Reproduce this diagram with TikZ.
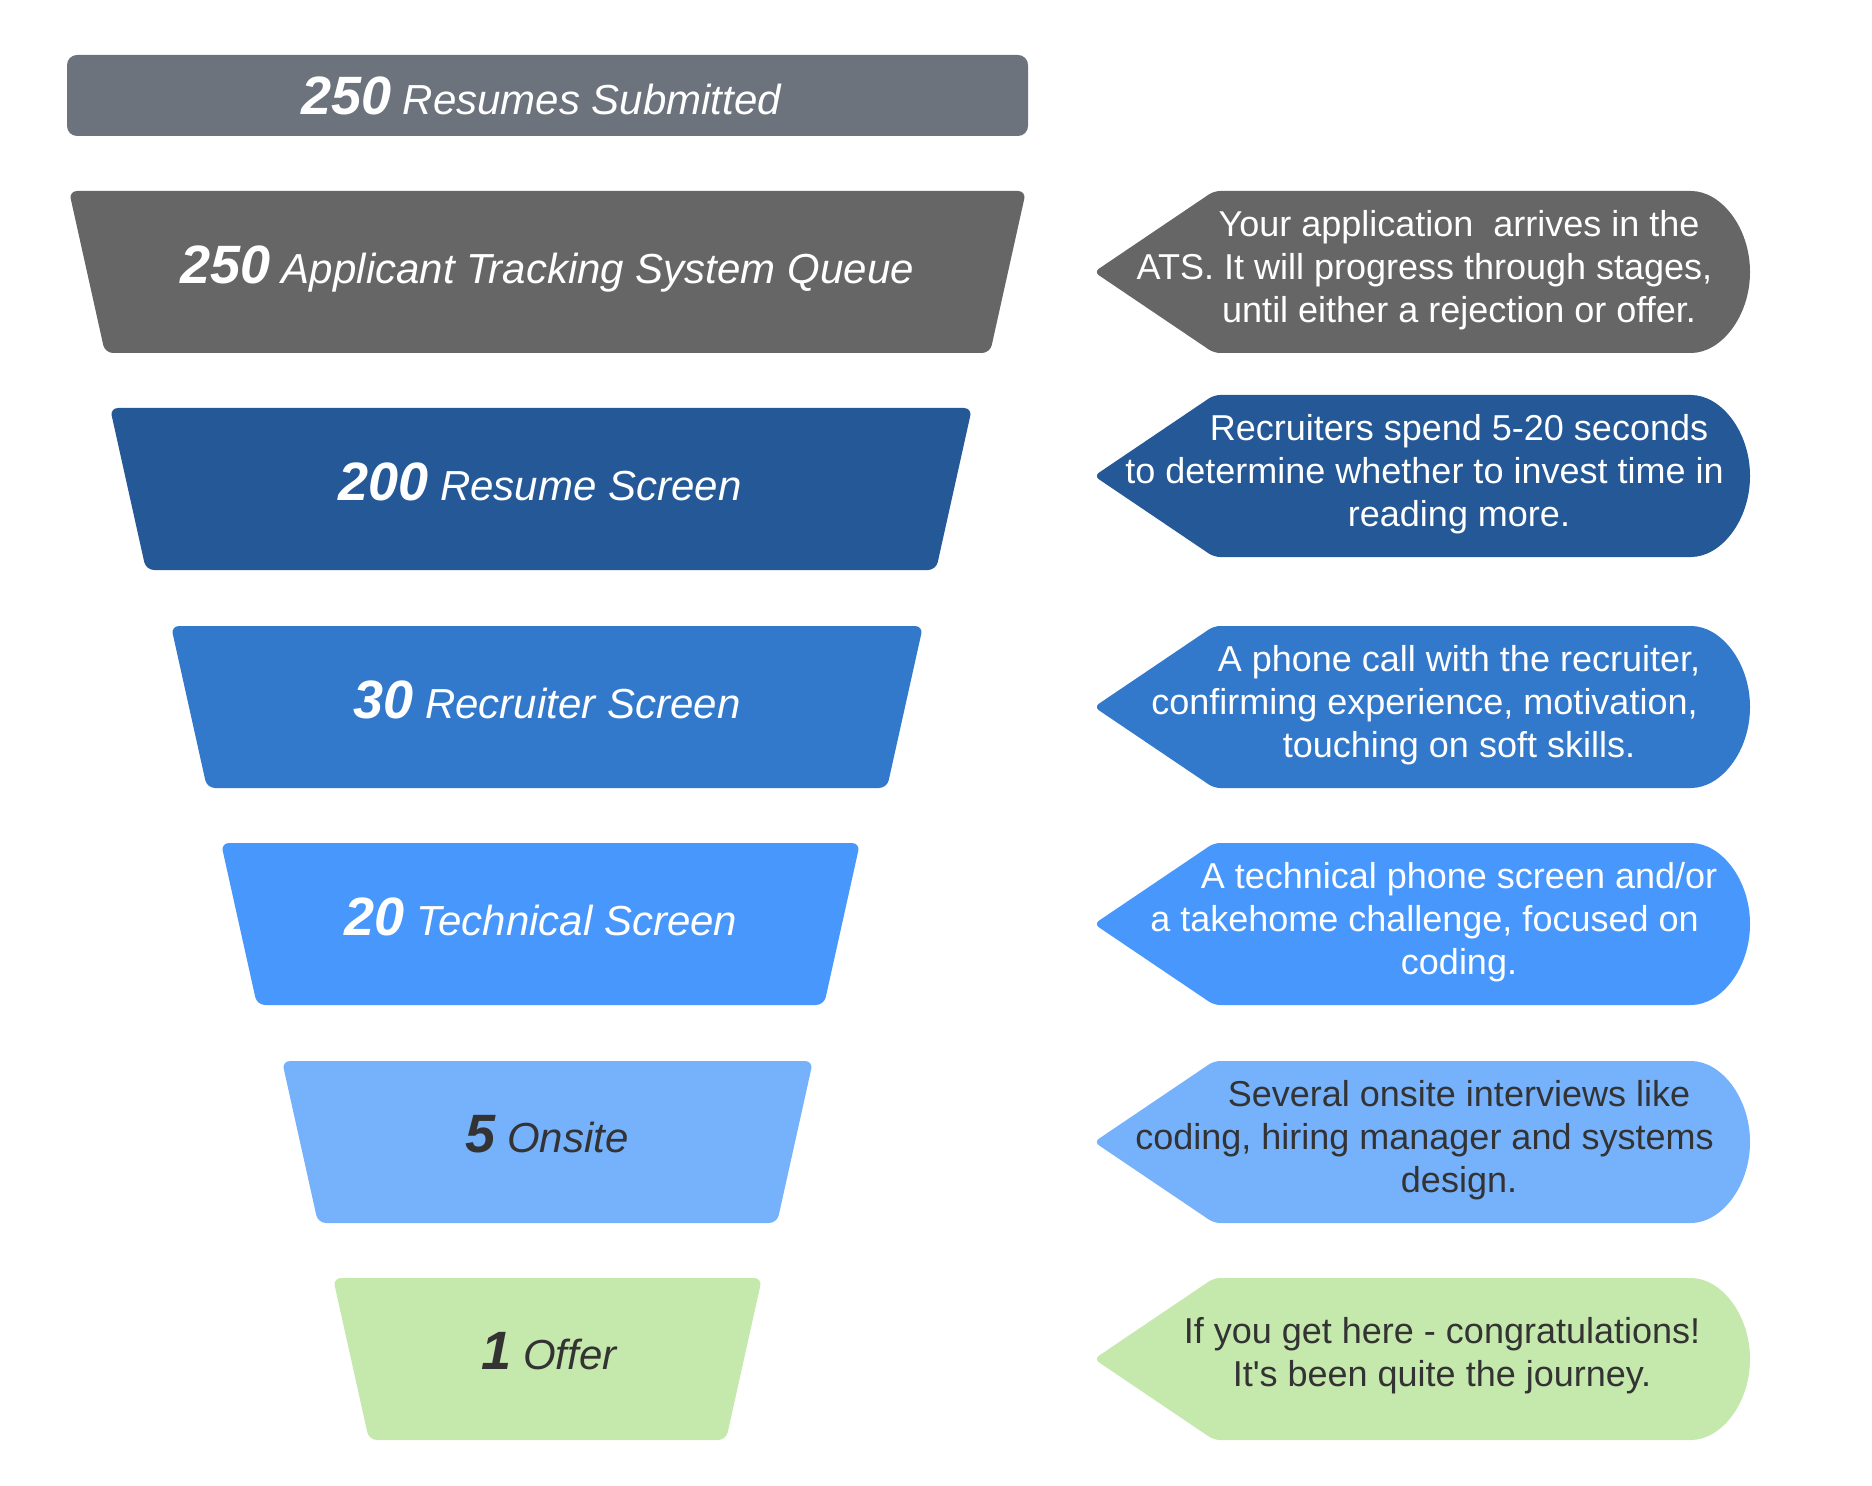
\documentclass[tikz,border=0pt]{standalone}
\usepackage{fontspec}
\setmainfont{Liberation Sans}

\definecolor{barGray}{HTML}{6C737C}
\definecolor{atsGray}{HTML}{666666}
\definecolor{resumeBlue}{HTML}{245897}
\definecolor{recruiterBlue}{HTML}{3379CB}
\definecolor{techBlue}{HTML}{4797FD}
\definecolor{onsiteBlue}{HTML}{76B1FC}
\definecolor{offerGreen}{HTML}{C5E8AD}
\definecolor{inkDark}{HTML}{333333}

% one funnel stage: #1 top y, #2 top-left x, #3 top-right x, #4 fill colour
\newcommand\FunnelBox[4]{%
  \fill[#4, rounded corners=4pt]
    ({(#2+#3)/2},#1) -- (#3,#1) -- ({#3-36},{#1+162})
    -- ({#2+36},{#1+162}) -- (#2,#1) -- cycle;}

% one arrow-shaped note: #1 top y, #2 fill colour
\newcommand\NoteShape[2]{%
  \fill[#2, rounded corners=3pt]
    (1450,#1) -- (1685,#1) arc (90:-90:32.5pt and 40.5pt)
    -- (1214,{#1+162}) -- (1094,{#1+81}) -- (1214,#1) -- cycle;}

% count in bold, stage name in plain italic
\newcommand\StageText[2]{{\fontsize{27}{32}\selectfont\bfseries #1} #2}

\begin{document}
\begin{tikzpicture}[x=0.5pt,y=-0.5pt,
  stagelabel/.style={anchor=base, inner sep=0pt,
    font=\fontsize{21}{25}\selectfont\itshape},
  notetext/.style={anchor=center, inner sep=0pt, align=center,
    font=\fontsize{18}{21.5}\selectfont}]
\useasboundingbox (0,0) rectangle (1872,1486);

% header bar
\fill[barGray, rounded corners=5pt] (67,55) rectangle (1028,136);
\node[stagelabel, text=white] (submitted) at (541,115)
  {\StageText{250}{Resumes Submitted}};

% funnel stages
\FunnelBox{191}{69}{1026}{atsGray}
\FunnelBox{408}{110}{972}{resumeBlue}
\FunnelBox{626}{171}{923}{recruiterBlue}
\FunnelBox{843}{221}{860}{techBlue}
\FunnelBox{1061}{282}{813}{onsiteBlue}
\FunnelBox{1278}{333}{762}{offerGreen}

\node[stagelabel, text=white] (ats) at (547,284)
  {\StageText{250}{Applicant Tracking System Queue}};
\node[stagelabel, text=white] (resume) at (540,501)
  {\StageText{200}{Resume Screen}};
\node[stagelabel, text=white] (recruiter) at (547,718)
  {\StageText{30}{Recruiter Screen}};
\node[stagelabel, text=white] (technical) at (541,935)
  {\StageText{20}{Technical Screen}};
\node[stagelabel, text=inkDark] (onsite) at (547,1152)
  {\StageText{5}{Onsite}};
\node[stagelabel, text=inkDark] (offer) at (549,1369)
  {\StageText{1}{Offer}};

% explanatory notes
\NoteShape{191}{atsGray}
\NoteShape{395}{resumeBlue}
\NoteShape{626}{recruiterBlue}
\NoteShape{843}{techBlue}
\NoteShape{1061}{onsiteBlue}
\NoteShape{1278}{offerGreen}

\node[notetext, text=white] (atsnote) at (1459,270)
  {Your application\ \ arrives in the\\
   \mbox{ATS. It will progress through stages,\kern34.5pt}\\
   until either a rejection or offer.};
\node[notetext, text=white] (resumenote) at (1459,474)
  {Recruiters spend 5-20 seconds\\
   \mbox{to determine whether to invest time in\kern34.5pt}\\
   reading more.};
\node[notetext, text=white] (recruiternote) at (1459,705)
  {A phone call with the recruiter,\\
   \mbox{confirming experience, motivation,\kern34.5pt}\\
   touching on soft skills.};
\node[notetext, text=white] (technote) at (1459,922)
  {A technical phone screen and/or\\
   \mbox{a takehome challenge, focused on\kern34.5pt}\\
   coding.};
\node[notetext, text=inkDark] (onsitenote) at (1459,1140)
  {Several onsite interviews like\\
   \mbox{coding, hiring manager and systems\kern34.5pt}\\
   design.};
\node[notetext, text=inkDark] (offernote) at (1442,1356)
  {If you get here - congratulations!\\
   It\textquotesingle s been quite the journey.};
\end{tikzpicture}
\end{document}
